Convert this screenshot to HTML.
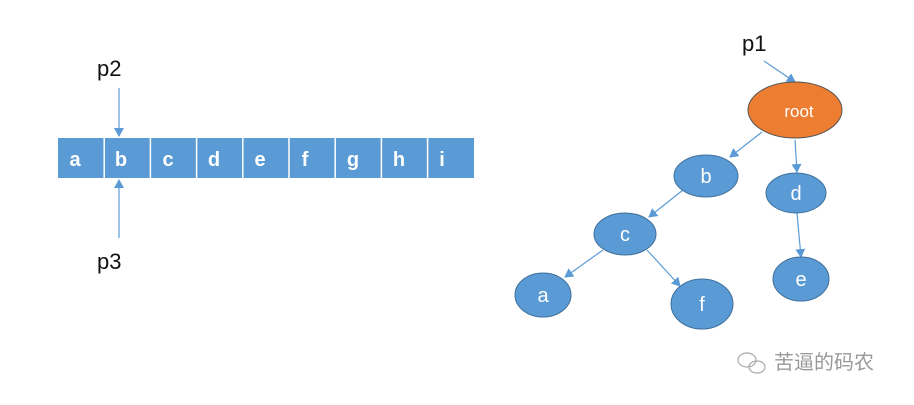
<!DOCTYPE html>
<html><head><meta charset="utf-8"><style>
html,body{margin:0;padding:0;background:#fff;}
</style></head><body>
<svg width="914" height="405" xmlns="http://www.w3.org/2000/svg" style="display:block">
<defs>
<marker id="ar" markerWidth="10" markerHeight="10" refX="8" refY="5" orient="auto" markerUnits="userSpaceOnUse">
<path d="M0,0 L9,5 L0,10 z" fill="#5b9bd5"/></marker>
</defs>
<rect x="58" y="138" width="416" height="40" fill="#5b9bd5"/>
<g stroke="#fff" stroke-width="1.5">
<line x1="104.2" y1="138" x2="104.2" y2="178"/><line x1="150.4" y1="138" x2="150.4" y2="178"/>
<line x1="196.6" y1="138" x2="196.6" y2="178"/><line x1="242.8" y1="138" x2="242.8" y2="178"/>
<line x1="289" y1="138" x2="289" y2="178"/><line x1="335.2" y1="138" x2="335.2" y2="178"/>
<line x1="381.4" y1="138" x2="381.4" y2="178"/><line x1="427.6" y1="138" x2="427.6" y2="178"/>
</g>
<g font-family="Liberation Sans, sans-serif" font-weight="bold" font-size="20" fill="#fff" text-anchor="middle">
<text x="75" y="166">a</text><text x="121" y="166">b</text><text x="168" y="166">c</text>
<text x="214" y="166">d</text><text x="260" y="166">e</text><text x="305" y="166">f</text>
<text x="353" y="166">g</text><text x="399" y="166">h</text><text x="442" y="166">i</text>
</g>
<g font-family="Liberation Sans, sans-serif" font-size="22" fill="#111">
<text x="97" y="76">p2</text><text x="97" y="269">p3</text><text x="742" y="51">p1</text>
</g>
<g stroke="#5b9bd5" stroke-width="1.2" marker-end="url(#ar)">
<line x1="119" y1="88" x2="119" y2="136"/>
<line x1="119" y1="238" x2="119" y2="180"/>
<line x1="764" y1="61" x2="795" y2="82"/>
<line x1="762" y1="132" x2="730" y2="157"/>
<line x1="795" y1="140" x2="797" y2="172"/>
<line x1="683" y1="190" x2="649" y2="217"/>
<line x1="603" y1="250" x2="565" y2="277"/>
<line x1="647" y1="250" x2="680" y2="286"/>
<line x1="797" y1="213" x2="801" y2="257"/>
</g>
<ellipse cx="795" cy="110" rx="47" ry="28" fill="#ed7d31" stroke="#555" stroke-width="1"/>
<g fill="#5b9bd5" stroke="#41719c" stroke-width="1">
<ellipse cx="706" cy="176" rx="32" ry="21"/>
<ellipse cx="796" cy="193" rx="30" ry="20"/>
<ellipse cx="625" cy="234" rx="31" ry="21"/>
<ellipse cx="543" cy="295" rx="28" ry="22"/>
<ellipse cx="702" cy="304" rx="31" ry="25"/>
<ellipse cx="801" cy="279" rx="28" ry="22"/>
</g>
<g font-family="Liberation Sans, sans-serif" font-size="20" fill="#fff" text-anchor="middle">
<text x="799" y="117" font-size="17">root</text>
<text x="706" y="183">b</text><text x="796" y="200">d</text><text x="625" y="241">c</text>
<text x="543" y="302">a</text><text x="702" y="311">f</text><text x="801" y="286">e</text>
</g>
<g fill="none" stroke="#aaa" stroke-width="1.2">
<ellipse cx="747" cy="360" rx="9" ry="7"/><ellipse cx="757" cy="367" rx="8" ry="6"/>
</g>
<text x="774" y="369" font-family="Liberation Sans, Noto Sans CJK SC, sans-serif" font-size="20" fill="#999">苦逼的码农</text>
</svg>
</body></html>
